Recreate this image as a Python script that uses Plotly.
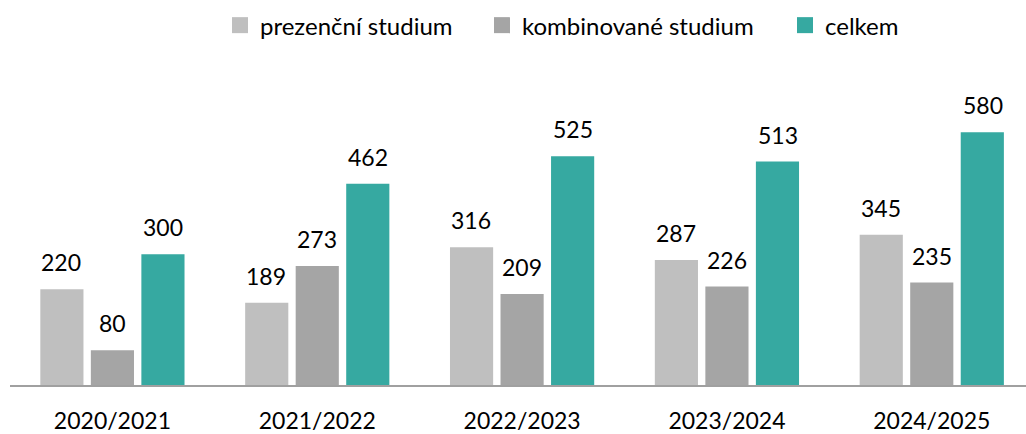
import plotly.graph_objects as go

categories = ["2020/2021", "2021/2022", "2022/2023", "2023/2024", "2024/2025"]
prezencni = [220, 189, 316, 287, 345]
kombinovane = [80, 273, 209, 226, 235]
celkem = [300, 462, 525, 513, 580]

series = [
    ("prezenční studium", prezencni, "#BFBFBF"),
    ("kombinované studium", kombinovane, "#A5A5A5"),
    ("celkem", celkem, "#36A9A1"),
]

FONT = "Lato, Carlito, Calibri, sans-serif"
legend_ids = ["legend", "legend2", "legend3"]
legend_px = [220, 482, 785]  # left edge of each legend box (pixels)

fig = go.Figure()
for name, vals, col in series:
    fig.add_trace(go.Bar(x=categories, y=vals, name=name, marker_color=col,
                         marker_line_width=0, hoverinfo="x+y", showlegend=False))
# legend entries with larger square symbols, one legend per entry
for (name, vals, col), lid in zip(series, legend_ids):
    fig.add_trace(go.Scatter(x=[None], y=[None], mode="markers", name=name,
                             marker=dict(symbol="square", size=16, color=col),
                             showlegend=True, hoverinfo="skip", legend=lid))

offsets = [-51, 0, 51]
for (name, vals, col), dx in zip(series, offsets):
    for c, v in zip(categories, vals):
        fig.add_annotation(x=c, y=v, text=str(v), showarrow=False, xshift=dx,
                           yanchor="bottom", yshift=11,
                           font=dict(size=23, color="#000000", family=FONT))

legend_common = dict(orientation="h", xanchor="left", y=0.993, yref="container",
                     yanchor="top", font=dict(size=24), itemwidth=30,
                     bgcolor="rgba(0,0,0,0)")
layout_legends = {}
for lid, px in zip(legend_ids, legend_px):
    layout_legends[lid] = dict(legend_common, x=(px - 10) / 1016)

fig.update_layout(
    width=1026, height=434,
    margin=dict(l=10, r=0, t=60, b=47),
    paper_bgcolor="white", plot_bgcolor="white",
    barmode="group", bargap=0.26, bargroupgap=0.146,
    font=dict(family=FONT, size=23, color="#000000"),
    showlegend=True,
    **layout_legends,
)
fig.update_xaxes(range=[-0.5, 4.46], showline=True, linecolor="#A0A0A0", linewidth=2,
                 showgrid=False, ticks="", ticklabelstandoff=14,
                 tickfont=dict(size=23, family=FONT))
fig.update_yaxes(range=[0, 746], visible=False, showgrid=False, zeroline=False)

fig.write_html("out.html", config={"displayModeBar": False},
               post_script="document.body.style.margin='0';document.body.style.overflow='hidden';")
